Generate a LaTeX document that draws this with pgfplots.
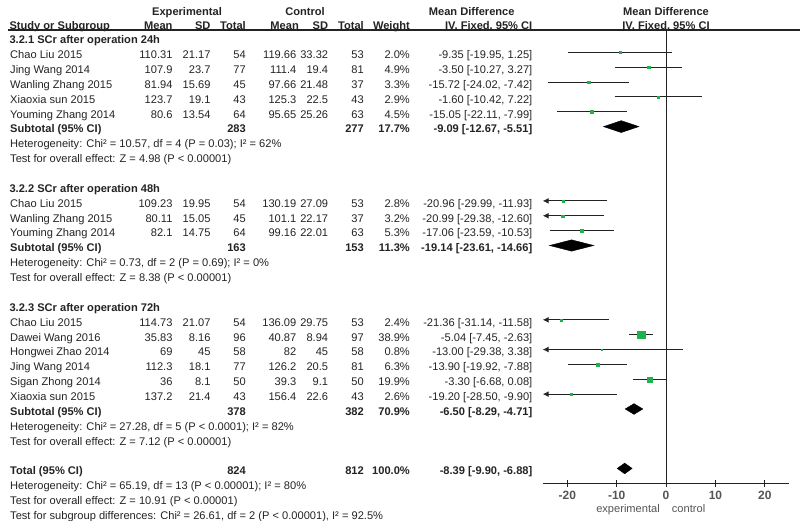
\documentclass[border=0pt]{standalone}
\usepackage{fontspec}
\setmainfont{Liberation Sans}
\usepackage{pgfplots}
\pgfplotsset{compat=1.18}
\usepackage{pgfplotstable}
\usetikzlibrary{arrows.meta}
\definecolor{rmgreen}{RGB}{30,178,76}
\definecolor{txt}{RGB}{35,35,35}
\definecolor{axgray}{RGB}{85,85,85}
\newcommand{\tf}{\fontsize{11.1}{13}\selectfont}
\tikzset{
  L/.style={anchor=base west, yshift=-6.3pt, inner sep=0pt, text=txt, font=\tf},
  R/.style={anchor=base east, yshift=-6.3pt, inner sep=0pt, text=txt, font=\tf},
  C/.style={anchor=base, yshift=-6.3pt, inner sep=0pt, text=txt, font=\tf},
}
% study rows: r, name, exp mean, exp sd, exp n, ctrl mean, ctrl sd, ctrl n
\newcommand{\srow}[8]{%
  \node[L] at (axis cs:10,-#1) {#2};
  \node[R] at (axis cs:172.7,-#1) {#3};
  \node[R] at (axis cs:210.7,-#1) {#4};
  \node[R] at (axis cs:246,-#1) {#5};
  \node[R] at (axis cs:296.5,-#1) {#6};
  \node[R] at (axis cs:328.3,-#1) {#7};
  \node[R] at (axis cs:364,-#1) {#8};
}
% weight and CI: r, weight, ci
\newcommand{\wci}[3]{%
  \node[R] at (axis cs:410,-#1) {#2};
  \node[R] at (axis cs:532.5,-#1) {#3};
}
\newcommand{\subrow}[6]{% r, label, n1, n2, weight, ci (bold)
  \node[L] at (axis cs:10,-#1) {\bfseries #2};
  \node[R] at (axis cs:246,-#1) {\bfseries #3};
  \node[R] at (axis cs:364,-#1) {\bfseries #4};
  \node[R] at (axis cs:410,-#1) {\bfseries #5};
  \node[R] at (axis cs:532.5,-#1) {\bfseries #6};
}
\newcommand{\lrow}[2]{\node[L] at (axis cs:10,-#1) {#2};}

\pgfplotstableread{
r  md     w
0  -9.35  2.0
1  -3.50  4.9
2  -15.72 3.3
3  -1.60  2.9
4  -15.05 4.5
10 -20.96 2.8
11 -20.99 3.2
12 -17.06 5.3
18 -21.36 2.4
19 -5.04  38.9
20 -13.00 0.8
21 -13.90 6.3
22 -3.30  19.9
23 -19.20 2.6
}\studies

\begin{document}
\tf
\begin{tikzpicture}[x=1pt,y=1pt]
% ---------------- table / layout axis (pixel x, row y) ----------------
\begin{axis}[name=tab, at={(0,0)}, anchor=north west, scale only axis,
  width=800pt, height=521pt, xmin=0, xmax=800, ymin=-31.53, ymax=3.518,
  hide axis, clip=false]
  % header
  \node[C] at (axis cs:187,2.9) {\bfseries Experimental};
  \node[C] at (axis cs:305,2.9) {\bfseries Control};
  \node[C] at (axis cs:471.7,2.9) {\bfseries Mean Difference};
  \node[C] at (axis cs:666,2.9) {\bfseries Mean Difference};
  \node[L] at (axis cs:9.3,1.95) {\bfseries Study or Subgroup};
  \node[R] at (axis cs:172.7,1.95) {\bfseries Mean};
  \node[R] at (axis cs:210.7,1.95) {\bfseries SD};
  \node[R] at (axis cs:246,1.95) {\bfseries Total};
  \node[R] at (axis cs:299,1.95) {\bfseries Mean};
  \node[R] at (axis cs:328.3,1.95) {\bfseries SD};
  \node[R] at (axis cs:364,1.95) {\bfseries Total};
  \node[R] at (axis cs:410,1.95) {\bfseries Weight};
  \node[R] at (axis cs:532.5,1.95) {\bfseries IV, Fixed, 95\% CI};
  \node[C] at (axis cs:666,1.95) {\bfseries IV, Fixed, 95\% CI};
  \addplot[draw=txt, line width=1.1pt] coordinates {(8,1.5) (800,1.5)};
  % 24h
  \node[L] at (axis cs:9.3,1) {\bfseries 3.2.1 SCr after operation 24h};
  \srow{0}{Chao Liu 2015}{110.31}{21.17}{54}{119.66}{33.32}{53}\wci{0}{2.0\%}{-9.35 [-19.95, 1.25]}
  \srow{1}{Jing Wang 2014}{107.9}{23.7}{77}{111.4}{19.4}{81}\wci{1}{4.9\%}{-3.50 [-10.27, 3.27]}
  \srow{2}{Wanling Zhang 2015}{81.94}{15.69}{45}{97.66}{21.48}{37}\wci{2}{3.3\%}{-15.72 [-24.02, -7.42]}
  \srow{3}{Xiaoxia sun 2015}{123.7}{19.1}{43}{125.3}{22.5}{43}\wci{3}{2.9\%}{-1.60 [-10.42, 7.22]}
  \srow{4}{Youming Zhang 2014}{80.6}{13.54}{64}{95.65}{25.26}{63}\wci{4}{4.5\%}{-15.05 [-22.11, -7.99]}
  \subrow{5}{Subtotal (95\% CI)}{283}{277}{17.7\%}{-9.09 [-12.67, -5.51]}
  \lrow{6}{Heterogeneity: Chi² = 10.57, df = 4 (P = 0.03); I² = 62\%}
  \lrow{7}{Test for overall effect: Z = 4.98 (P < 0.00001)}
  % 48h
  \node[L] at (axis cs:9.3,-9) {\bfseries 3.2.2 SCr after operation 48h};
  \srow{10}{Chao Liu 2015}{109.23}{19.95}{54}{130.19}{27.09}{53}\wci{10}{2.8\%}{-20.96 [-29.99, -11.93]}
  \srow{11}{Wanling Zhang 2015}{80.11}{15.05}{45}{101.1}{22.17}{37}\wci{11}{3.2\%}{-20.99 [-29.38, -12.60]}
  \srow{12}{Youming Zhang 2014}{82.1}{14.75}{64}{99.16}{22.01}{63}\wci{12}{5.3\%}{-17.06 [-23.59, -10.53]}
  \subrow{13}{Subtotal (95\% CI)}{163}{153}{11.3\%}{-19.14 [-23.61, -14.66]}
  \lrow{14}{Heterogeneity: Chi² = 0.73, df = 2 (P = 0.69); I² = 0\%}
  \lrow{15}{Test for overall effect: Z = 8.38 (P < 0.00001)}
  % 72h
  \node[L] at (axis cs:9.3,-17) {\bfseries 3.2.3 SCr after operation 72h};
  \srow{18}{Chao Liu 2015}{114.73}{21.07}{54}{136.09}{29.75}{53}\wci{18}{2.4\%}{-21.36 [-31.14, -11.58]}
  \srow{19}{Dawei Wang 2016}{35.83}{8.16}{96}{40.87}{8.94}{97}\wci{19}{38.9\%}{-5.04 [-7.45, -2.63]}
  \srow{20}{Hongwei Zhao 2014}{69}{45}{58}{82}{45}{58}\wci{20}{0.8\%}{-13.00 [-29.38, 3.38]}
  \srow{21}{Jing Wang 2014}{112.3}{18.1}{77}{126.2}{20.5}{81}\wci{21}{6.3\%}{-13.90 [-19.92, -7.88]}
  \srow{22}{Sigan Zhong 2014}{36}{8.1}{50}{39.3}{9.1}{50}\wci{22}{19.9\%}{-3.30 [-6.68, 0.08]}
  \srow{23}{Xiaoxia sun 2015}{137.2}{21.4}{43}{156.4}{22.6}{43}\wci{23}{2.6\%}{-19.20 [-28.50, -9.90]}
  \subrow{24}{Subtotal (95\% CI)}{378}{382}{70.9\%}{-6.50 [-8.29, -4.71]}
  \lrow{25}{Heterogeneity: Chi² = 27.28, df = 5 (P < 0.0001); I² = 82\%}
  \lrow{26}{Test for overall effect: Z = 7.12 (P < 0.00001)}
  % total
  \subrow{28}{Total (95\% CI)}{824}{812}{100.0\%}{-8.39 [-9.90, -6.88]}
  \lrow{29}{Heterogeneity: Chi² = 65.19, df = 13 (P < 0.00001); I² = 80\%}
  \lrow{30}{Test for overall effect: Z = 10.91 (P < 0.00001)}
  \lrow{31}{Test for subgroup differences: Chi² = 26.61, df = 2 (P < 0.00001), I² = 92.5\%}
  % favours labels
  \node[R, text=axgray] at (axis cs:660,-30.52) {experimental};
  \node[L, text=axgray] at (axis cs:671.7,-30.52) {control};
\end{axis}
% ---------------- forest plot axis ----------------
\begin{axis}[name=forest, at={(542.7pt,-483.3pt)}, anchor=south west, scale only axis,
  width=246.75pt, height=453.3pt, xmin=-25, xmax=25, ymin=-29, ymax=1.5,
  axis x line=bottom, axis y line=none, axis line style={-, draw=txt, line width=1.1pt},
  xtick={-20,-10,0,10,20}, xticklabels={-20,-10,0,10,20},
  tick align=center, major tick length=7pt, tick style={draw=txt, line width=1.1pt},
  xticklabel style={font=\fontsize{12}{12}\selectfont\bfseries, text=axgray, yshift=0pt},
  ci/.style={draw=txt, line width=1pt},
  ar/.style={draw=txt, line width=1pt, -{Latex[length=6pt,width=6pt]}},
  dia/.style={draw=black, fill=black, line width=0.4pt},
  clip=true]
  \addplot[draw=txt, line width=1pt] coordinates {(0,1.5) (0,-29)};
  % 24h
  \addplot[ci] coordinates {(-19.95,0) (1.25,0)};
  \addplot[ci] coordinates {(-10.27,-1) (3.27,-1)};
  \addplot[ci] coordinates {(-24.02,-2) (-7.42,-2)};
  \addplot[ci] coordinates {(-10.42,-3) (7.22,-3)};
  \addplot[ci] coordinates {(-22.11,-4) (-7.99,-4)};
  \addplot[dia] coordinates {(-12.67,-5) (-9.09,-4.6) (-5.51,-5) (-9.09,-5.4)} -- cycle;
  % 48h
  \addplot[ar] coordinates {(-11.93,-10) (-25,-10)};
  \addplot[ar] coordinates {(-12.60,-11) (-25,-11)};
  \addplot[ci] coordinates {(-23.59,-12) (-10.53,-12)};
  \addplot[dia] coordinates {(-23.61,-13) (-19.14,-12.62) (-14.66,-13) (-19.14,-13.38)} -- cycle;
  % 72h
  \addplot[ar] coordinates {(-11.58,-18) (-25,-18)};
  \addplot[ci] coordinates {(-7.45,-19) (-2.63,-19)};
  \addplot[ar] coordinates {(3.38,-20) (-25,-20)};
  \addplot[ci] coordinates {(-19.92,-21) (-7.88,-21)};
  \addplot[ci] coordinates {(-6.68,-22) (0.08,-22)};
  \addplot[ar] coordinates {(-9.90,-23) (-25,-23)};
  \addplot[dia] coordinates {(-8.29,-24) (-6.50,-23.64) (-4.71,-24) (-6.50,-24.36)} -- cycle;
  % total
  \addplot[dia] coordinates {(-9.90,-28) (-8.39,-27.64) (-6.88,-28) (-8.39,-28.36)} -- cycle;
  % study points
  \addplot[scatter, only marks, mark=square*,
    scatter/use mapped color={draw=rmgreen, fill=rmgreen},
    mark options={line width=0.1pt},
    visualization depends on={max(0.6,0.6*sqrt(\thisrow{w})) \as \msz},
    scatter/@pre marker code/.append style={/tikz/mark size=\msz}]
    table[x=md, y expr=-\thisrow{r}] {\studies};
\end{axis}
\pgfresetboundingbox
\path[use as bounding box] (0,0) rectangle (800,-521);
\end{tikzpicture}
\end{document}
